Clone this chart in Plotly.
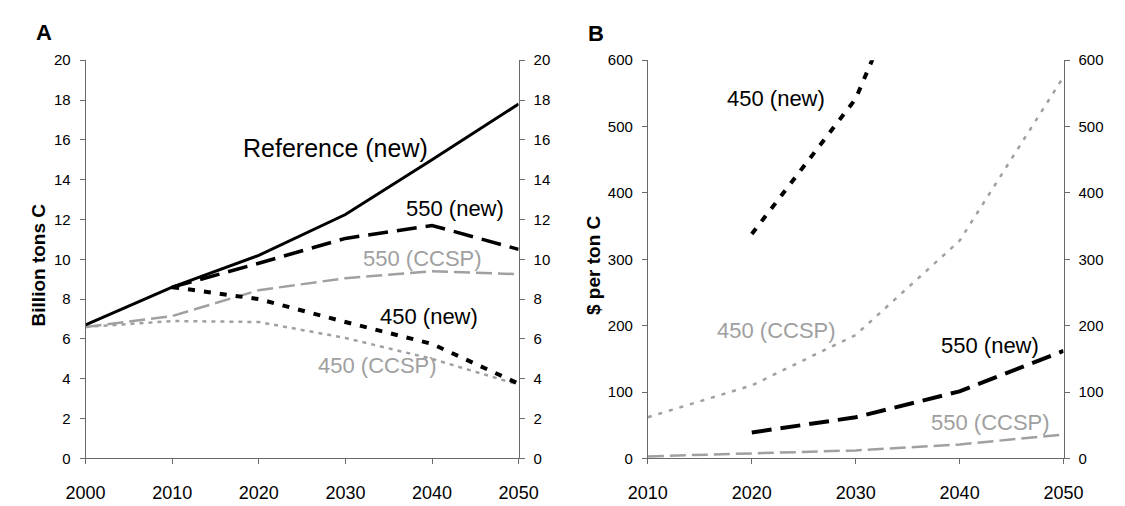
import plotly.graph_objects as go

# ---------------- data ----------------
years_a = [2000, 2010, 2020, 2030, 2040, 2050]
ref_new = [6.7, 8.6, 10.2, 12.25, 15.0, 17.8]
new550_years = [2010, 2020, 2030, 2040, 2050]
new550 = [8.6, 9.8, 11.05, 11.7, 10.5]
ccsp550 = [6.6, 7.15, 8.45, 9.05, 9.4, 9.25]
new450_years = [2010, 2020, 2030, 2040, 2050]
new450 = [8.6, 8.0, 6.85, 5.75, 3.75]
ccsp450 = [6.6, 6.9, 6.85, 6.05, 5.0, 3.7]

years_b = [2010, 2020, 2030, 2040, 2050]
b_new450_years = [2020, 2030, 2040]
b_new450 = [338, 542, 910]
b_ccsp450 = [62, 110, 186, 328, 575]
b_new550_years = [2020, 2030, 2040, 2050]
b_new550 = [39, 62, 101, 162]
b_ccsp550 = [3, 7, 12, 21, 36]

ticks_a_y = [0, 2, 4, 6, 8, 10, 12, 14, 16, 18, 20]
ticks_b_y = [0, 100, 200, 300, 400, 500, 600]

BLACK = "#000000"
GRAY = "#a0a0a0"
FONT = "Liberation Sans, Arial, sans-serif"

fig = go.Figure()

def add(x, y, color, width, dash, xa, ya):
    fig.add_trace(go.Scatter(x=x, y=y, mode="lines", xaxis=xa, yaxis=ya,
                             line=dict(color=color, width=width, dash=dash),
                             showlegend=False, hoverinfo="skip"))

# Panel A
add(years_a, ccsp450, GRAY, 2.5, "4px,5px", "x", "y")
add(years_a, ccsp550, GRAY, 2.5, "16px,6px", "x", "y")
add(new450_years, new450, BLACK, 4, "7px,9px", "x", "y")
add(new550_years, new550, BLACK, 3.5, "20px,9px", "x", "y")
add(years_a, ref_new, BLACK, 3, "solid", "x", "y")

# Panel B
add(years_b, b_ccsp450, GRAY, 2.5, "4px,7px", "x2", "y2")
add(years_b, b_ccsp550, GRAY, 2.5, "16px,6px", "x2", "y2")
add(b_new450_years, b_new450, BLACK, 4, "7px,9px", "x2", "y2")
add(b_new550_years, b_new550, BLACK, 4, "20px,9px", "x2", "y2")

# invisible traces so the right-hand axes render
fig.add_trace(go.Scatter(x=years_a, y=ref_new, mode="lines", xaxis="x", yaxis="y3",
                         line=dict(width=0), opacity=0, showlegend=False, hoverinfo="skip"))
fig.add_trace(go.Scatter(x=years_b, y=b_ccsp450, mode="lines", xaxis="x2", yaxis="y4",
                         line=dict(width=0), opacity=0, showlegend=False, hoverinfo="skip"))

AX = "#6a6a6a"
ydom = [1 - 465 / 506, 1 - 53 / 506]
xa_dom = [68 / 1125, 517 / 1125]
xb_dom = [651 / 1125, 1082 / 1125]

xcommon = dict(showgrid=False, zeroline=False, showline=True, linecolor=AX, linewidth=1,
               ticks="outside", ticklen=5, tickcolor=AX, dtick=10,
               tickfont=dict(size=18, color="#000", family=FONT), ticklabelstandoff=13)
ycommon = dict(showgrid=False, zeroline=False, showline=True, linecolor=AX, linewidth=1,
               ticks="outside", ticklen=5, tickcolor=AX,
               tickfont=dict(size=15, color="#000", family=FONT), ticklabelstandoff=6)

fig.update_layout(
    width=1125, height=506, margin=dict(l=0, r=0, t=0, b=0),
    paper_bgcolor="white", plot_bgcolor="rgba(0,0,0,0)",
    font=dict(family=FONT, color="#000"),
    xaxis=dict(domain=xa_dom, range=[2000, 2050], anchor="y", tick0=2000, **xcommon),
    yaxis=dict(domain=ydom, range=[0, 20], anchor="x", tickvals=ticks_a_y, **ycommon),
    yaxis3=dict(range=[0, 20], overlaying="y", side="right", anchor="x", tickvals=ticks_a_y, **ycommon),
    xaxis2=dict(domain=xb_dom, range=[2010, 2050], anchor="y2", tick0=2010, **xcommon),
    yaxis2=dict(domain=ydom, range=[0, 600], anchor="x2", tickvals=ticks_b_y, **ycommon),
    yaxis4=dict(range=[0, 600], overlaying="y2", side="right", anchor="x2", tickvals=ticks_b_y, **ycommon),
)

def label(text, x, y, xref, yref, size, color):
    fig.add_annotation(text=text, x=x, y=y, xref=xref, yref=yref, showarrow=False,
                       font=dict(size=size, color=color, family=FONT),
                       xanchor="center", yanchor="middle")

label("Reference (new)", 2028.9, 15.6, "x", "y", 25, BLACK)
label("550 (new)", 2042.6, 12.55, "x", "y", 22, BLACK)
label("550 (CCSP)", 2038.9, 10.05, "x", "y", 22, GRAY)
label("450 (new)", 2039.6, 7.15, "x", "y", 22, BLACK)
label("450 (CCSP)", 2033.7, 4.65, "x", "y", 22, GRAY)

label("450 (new)", 2022.3, 543, "x2", "y2", 22, BLACK)
label("450 (CCSP)", 2022.4, 192, "x2", "y2", 22, GRAY)
label("550 (new)", 2042.9, 170, "x2", "y2", 22, BLACK)
label("550 (CCSP)", 2043.0, 54, "x2", "y2", 22, GRAY)

def paper_text(text, x, y, size, angle=0):
    fig.add_annotation(text="<b>%s</b>" % text, x=x / 1125, y=1 - y / 506, xref="paper", yref="paper",
                       showarrow=False, textangle=angle, xanchor="center", yanchor="middle",
                       font=dict(size=size, color="#000", family=FONT))

paper_text("A", 25, 24, 22)
paper_text("B", 597, 25, 22)
paper_text("Billion tons C", 19, 265, 19, -90)
paper_text("$ per ton C", 594, 265, 19, -90)

fig.write_html("out.html")
